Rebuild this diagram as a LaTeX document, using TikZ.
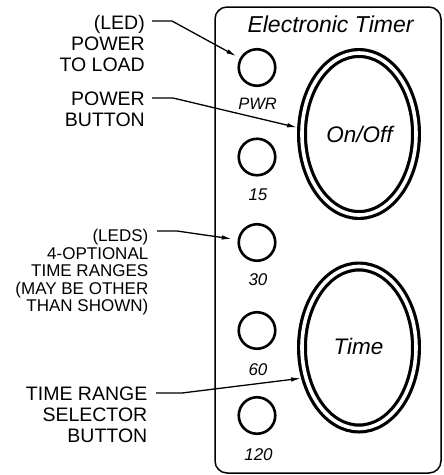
\documentclass[tikz,border=0pt]{standalone}
\usepackage{fontspec}
\setmainfont{Liberation Sans}
\usetikzlibrary{shapes.geometric,arrows.meta}
\begin{document}
\begin{tikzpicture}[x=1pt,y=-1pt,
  led/.style={circle,draw,line width=2.6pt,minimum size=36.5pt,inner sep=0pt},
  btn/.style={ellipse,draw,double=white,line width=3.2pt,double distance=3.6pt,
              minimum width=114pt,minimum height=162pt,inner sep=0pt,outer sep=5pt},
  callout/.style={align=right,inner sep=0pt,anchor=north east},
  bigcall/.style={callout,font=\fontsize{19.5}{21}\selectfont},
  smallcall/.style={callout,font=\fontsize{17}{17.5}\selectfont},
  leader/.style={line width=1.3pt,-{Latex[length=10pt,width=4.5pt]}},
  panellbl/.style={inner sep=0pt,anchor=base,font=\itshape\fontsize{17}{17}\selectfont},
  btnlbl/.style={inner sep=0pt,anchor=base,font=\itshape\fontsize{22.5}{22.5}\selectfont}
]
\useasboundingbox (0,0) rectangle (444,475);

% panel
\draw[line width=1.5pt,rounded corners=12pt] (215,7) rectangle (441,473);
\node[inner sep=0pt,anchor=base,font=\itshape\fontsize{23}{23}\selectfont] (title) at (330.5,32) {Electronic Timer};

% LEDs
\node[led] (pwr)  at (257,67.5)  {};
\node[led] (l15)  at (257,157)   {};
\node[led] (l30)  at (257,242.5) {};
\node[led] (l60)  at (257,330.5) {};
\node[led] (l120) at (257,415.5) {};

\node[panellbl,font=\itshape\fontsize{16.5}{16.5}\selectfont] (tpwr) at (257.5,109) {PWR};
\node[panellbl] (t15)  at (258,200)   {15};
\node[panellbl] (t30)  at (258,285)   {30};
\node[panellbl] (t60)  at (258,375)   {60};
\node[panellbl] (t120) at (258.5,460) {120};

% buttons
\node[btn] (onoff) at (359,134)   {};
\node[btn] (time)  at (359,347.5) {};
\node[btnlbl] (tonoff) at (359.5,142) {On/Off};
\node[btnlbl] (ttime)  at (358.5,354) {Time};

% callouts
\node[bigcall]   (c1) at (145,15)    {(LED)\\POWER\\TO LOAD};
\node[bigcall]   (c2) at (145,92)    {POWER\\BUTTON};
\node[smallcall] (c3) at (148.5,229) {(LEDS)\\4-OPTIONAL\\TIME RANGES\\(MAY BE OTHER\\THAN SHOWN)};
\node[bigcall]   (c4) at (147.5,387) {TIME RANGE\\SELECTOR\\BUTTON};

% leader lines
\coordinate (s1) at (152,21);  \coordinate (k1) at (172,21);
\coordinate (s2) at (152,98);  \coordinate (k2) at (173,98);
\coordinate (s3) at (157,231); \coordinate (k3) at (177,231);
\coordinate (s4) at (156,393); \coordinate (k4) at (182,393);

\draw[leader,shorten >=4pt] (s1) -- (k1) -- (pwr);
\draw[leader] (s2) -- (k2) -- (onoff.174);
\draw[leader,shorten >=6pt] (s3) -- (k3) -- (l30);
\draw[leader] (s4) -- (k4) -- (time.208);
\end{tikzpicture}
\end{document}
